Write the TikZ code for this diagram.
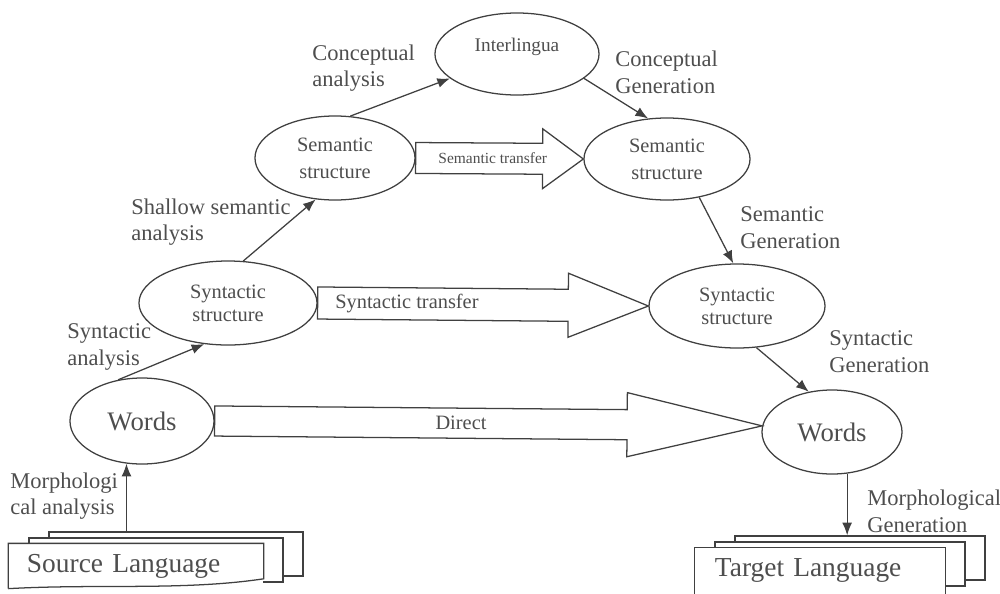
\documentclass[tikz,border=0pt]{standalone}
\usepackage{fontspec}
\setmainfont{Liberation Serif}
\usetikzlibrary{shapes.geometric,arrows.meta,calc}
\definecolor{ink}{HTML}{404040}
\definecolor{inktext}{HTML}{4E4E4E}

\begin{document}
\begin{tikzpicture}[
                     x = 0.025cm,
                     y = -0.025cm,
     every node/.style = {inner sep=0pt, text=inktext},
          stage/.style = {draw=ink, ellipse, line width=0.9pt, fill=white, align=center},
            lbl/.style = {anchor=west, align=left, font=\fontsize{16}{19}\selectfont},
           conn/.style = {draw=ink, line width=0.9pt, -{Latex[length=9pt,width=7pt]}},
            fat/.style = {draw=ink, line width=0.9pt, fill=white},
        docline/.style = {draw=ink, line width=0.9pt},
         docbox/.style = {docline, fill=white, minimum height=1.1cm,
                          align=left, font=\fontsize{19.5}{22}\selectfont},
                     ]
\useasboundingbox (0,0) rectangle (1000,593);

% ellipses
\node[stage, minimum width=4.1cm, minimum height=2.05cm, text depth=13pt,
      font=\fontsize{13.7}{16}\selectfont] (inter) at (517,54) {Interlingua};
\node[stage, minimum width=4cm, minimum height=2.1cm,
      font=\fontsize{14.5}{19}\selectfont] (semL) at (335,158) {Semantic\\structure};
\node[stage, minimum width=4.15cm, minimum height=2.05cm,
      font=\fontsize{14.5}{19}\selectfont] (semR) at (667,159) {Semantic\\structure};
\node[stage, minimum width=4.45cm, minimum height=2.1cm,
      font=\fontsize{14.5}{16.5}\selectfont] (synL) at (228,303) {Syntactic\\structure};
\node[stage, minimum width=4.4cm, minimum height=2.1cm,
      font=\fontsize{14.5}{16.5}\selectfont] (synR) at (737,306) {Syntactic\\structure};
\node[stage, minimum width=3.6cm, minimum height=2.15cm,
      font=\fontsize{19}{22}\selectfont] (wordsL) at (142,421) {Words};
\node[stage, minimum width=3.5cm, minimum height=2.1cm,
      font=\fontsize{19}{22}\selectfont] (wordsR) at (832,432) {Words};

% transfer arrows
\foreach \a/\b/\w/\W/\L in {synL.east/synR.west/11.4pt/22.8pt/57pt,
                            semL.east/semR.west/11pt/21.3pt/29pt,
                            wordsL.east/wordsR.175/10.7pt/22.8pt/96pt}{
  \coordinate (h) at ($(\b)!\L!(\a)$);
  \draw[fat] ($(\a)!\w!-90:(\b)$) -- ($(h)!\w!-90:(\b)$) -- ($(h)!\W!-90:(\b)$) -- (\b)
          -- ($(h)!\W!90:(\b)$) -- ($(h)!\w!90:(\b)$) -- ($(\a)!\w!90:(\b)$) -- cycle;
}
\node[font=\fontsize{14.5}{17}\selectfont] (syntr) at ($(synL.east)!0.27!(synR.west)$) {Syntactic transfer};
\node[font=\fontsize{11}{13}\selectfont] (semtr) at ($(semL.east)!0.46!(semR.west)$) {Semantic transfer};
\node[font=\fontsize{14.5}{17}\selectfont] (direct) at ($(wordsL.east)!0.45!(wordsR.175)$) {Direct};

% documents
\node[docbox, text width=5.45cm, inner xsep=0.45cm] (srcC) at (176,554) {};
\node[docbox, text width=5.45cm, inner xsep=0.45cm] (srcB) at (156,560) {};
\node[docbox, draw=none, text width=5.45cm, inner xsep=0.45cm] (srcA) at (136,566) {Source Language};
\draw[docline] (srcA.south west) -- (srcA.north west) -- (srcA.north east) -- ([yshift=7pt]srcA.south east)
    .. controls +(-80,12) and +(90,-5) .. (srcA.south west);
\node[docbox, text width=5.25cm, inner xsep=0.5cm] (tgtC) at (860,558) {};
\node[docbox, text width=5.25cm, inner xsep=0.5cm] (tgtB) at (840,564) {};
\node[docbox, draw=none, text width=5.25cm, inner xsep=0.5cm] (tgtA) at (820,570) {Target Language};
\draw[docline] ([yshift=-10pt]tgtA.south west) -- (tgtA.north west) -- (tgtA.north east) -- ([yshift=-10pt]tgtA.south east);

% analysis / generation
\draw[conn] (wordsL.-110 |- srcC.north) -- (wordsL.-110);
\draw[conn] (wordsL.120) -- (synL.-120);
\draw[conn] (synL.70) -- (semL.-115);
\draw[conn] (semL.70) -- (inter.-160);
\draw[conn] (inter.-20) -- (semR.115);
\draw[conn] (semR.-50) -- (synR.95);
\draw[conn] (synR.-65) -- (wordsR.120);
\draw[conn] (wordsR.-70) -- (wordsR.-70 |- tgtC.north);

\node[lbl] (concA) at (312,68) {Conceptual\\analysis};
\node[lbl] (concG) at (615,72) {Conceptual\\Generation};
\node[lbl] (shallow) at (131,222) {Shallow semantic\\analysis};
\node[lbl] (semG) at (740,228) {Semantic\\Generation};
\node[lbl] (synA) at (67,347) {Syntactic\\analysis};
\node[lbl] (synG) at (829,352) {Syntactic\\Generation};
\node[lbl] (morA) at (10,496) {Morphologi\\cal analysis};
\node[lbl] (morG) at (867,511) {Morphological\\Generation};
\end{tikzpicture}
\end{document}
